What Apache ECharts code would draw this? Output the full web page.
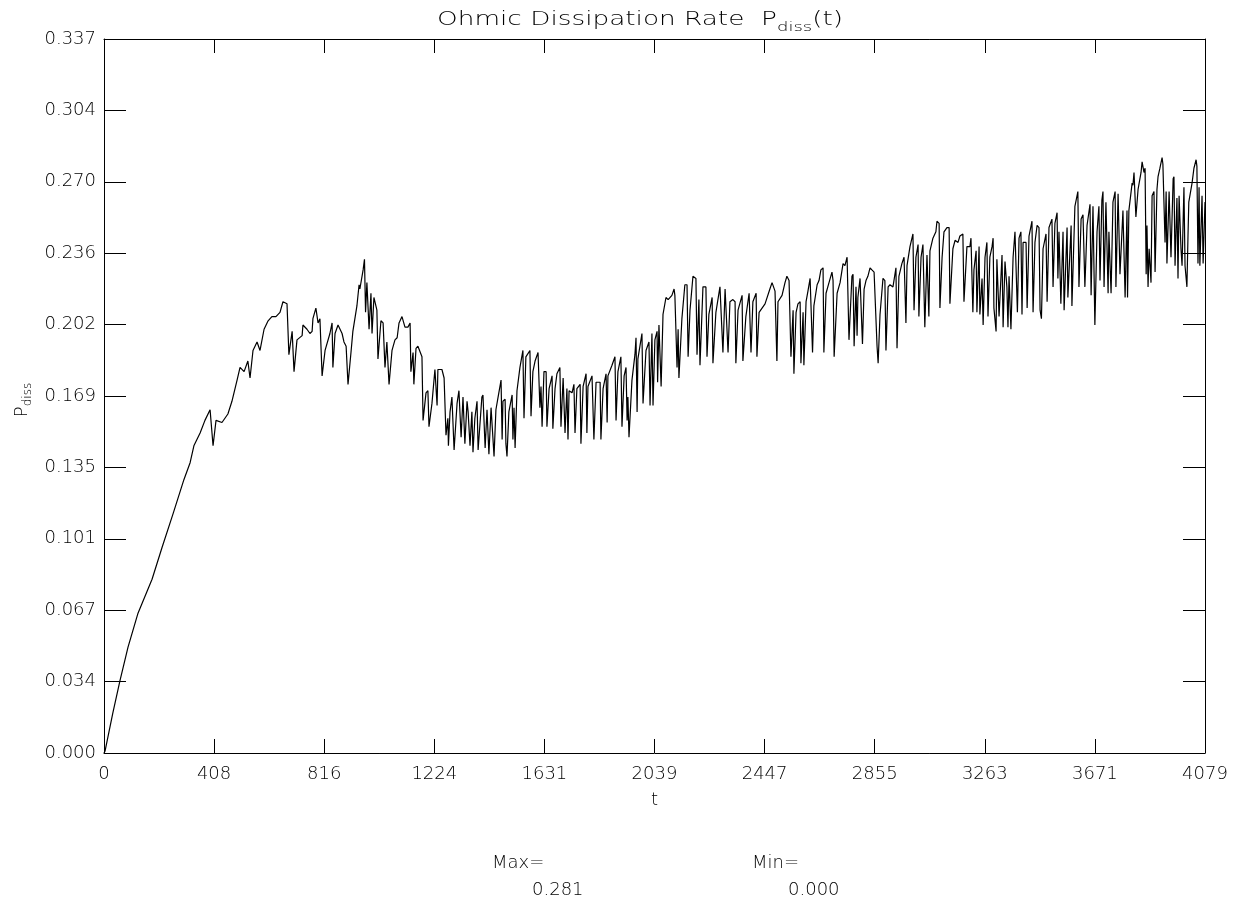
<!DOCTYPE html>
<html>
<head>
<meta charset="utf-8">
<title>Ohmic Dissipation Rate</title>
<script src="https://cdn.jsdelivr.net/npm/echarts@6/dist/echarts.min.js"></script>
<style>
  html, body { margin: 0; padding: 0; background: #fff; }
  #chart { width: 1236px; height: 907px; }
</style>
</head>
<body>
<div id="chart"></div>
<script>
// Ohmic dissipation rate samples: [t, P_diss]
const pdissSeries = [
  [0,0.000],[4,0.001],[33,0.019],[59,0.034],[89,0.050],[126,0.066],[178,0.082],[215,0.097],[256,0.113],[296,0.129],
  [319,0.137],[333,0.145],[356,0.151],[374,0.157],[393,0.162],[404,0.145],[415,0.157],[437,0.156],[459,0.160],[474,0.166],
  [493,0.176],[504,0.182],[519,0.180],[533,0.185],[541,0.177],[552,0.190],[567,0.194],[578,0.190],[593,0.200],[608,0.204],
  [622,0.206],[637,0.206],[652,0.208],[663,0.213],[678,0.212],[685,0.188],[697,0.199],[704,0.180],[715,0.195],[734,0.197],
  [737,0.202],[752,0.200],[763,0.198],[771,0.199],[774,0.205],[785,0.210],[793,0.203],[800,0.205],[808,0.178],[819,0.190],
  [826,0.190],[837,0.198],[845,0.203],[848,0.182],[856,0.198],[867,0.202],[882,0.198],[889,0.194],[897,0.192],[904,0.174],
  [915,0.189],[922,0.199],[937,0.211],[945,0.221],[948,0.219],[960,0.228],[965,0.233],[969,0.208],[974,0.222],[982,0.200],
  [989,0.217],[993,0.198],[1000,0.215],[1011,0.209],[1015,0.186],[1026,0.204],[1034,0.203],[1041,0.182],[1048,0.194],[1056,0.174],
  [1067,0.190],[1078,0.195],[1086,0.196],[1093,0.203],[1104,0.206],[1115,0.201],[1126,0.201],[1134,0.203],[1137,0.180],[1145,0.189],
  [1148,0.174],[1156,0.191],[1163,0.192],[1178,0.187],[1182,0.157],[1193,0.170],[1200,0.171],[1204,0.154],[1215,0.165],[1226,0.181],
  [1234,0.164],[1237,0.181],[1252,0.181],[1260,0.177],[1267,0.150],[1274,0.158],[1276,0.145],[1282,0.161],[1289,0.168],[1297,0.143],
  [1308,0.165],[1315,0.171],[1323,0.149],[1330,0.168],[1337,0.146],[1345,0.166],[1349,0.161],[1356,0.145],[1363,0.161],[1367,0.142],
  [1374,0.158],[1382,0.166],[1386,0.143],[1400,0.168],[1404,0.169],[1412,0.144],[1419,0.162],[1426,0.141],[1434,0.163],[1441,0.163],
  [1445,0.140],[1452,0.162],[1460,0.168],[1471,0.176],[1475,0.148],[1478,0.166],[1486,0.167],[1489,0.146],[1493,0.140],[1500,0.161],
  [1512,0.169],[1515,0.148],[1519,0.163],[1523,0.144],[1530,0.171],[1541,0.182],[1552,0.190],[1556,0.158],[1563,0.187],[1578,0.190],
  [1582,0.159],[1589,0.180],[1597,0.185],[1608,0.189],[1615,0.163],[1619,0.173],[1623,0.154],[1630,0.180],[1638,0.180],[1641,0.154],
  [1649,0.172],[1660,0.178],[1663,0.153],[1671,0.172],[1678,0.179],[1689,0.182],[1693,0.154],[1701,0.177],[1708,0.151],[1715,0.172],
  [1719,0.148],[1723,0.171],[1734,0.170],[1741,0.174],[1745,0.151],[1752,0.172],[1764,0.174],[1767,0.146],[1775,0.173],[1786,0.179],
  [1789,0.151],[1793,0.173],[1808,0.178],[1815,0.148],[1823,0.175],[1838,0.175],[1841,0.148],[1849,0.172],[1860,0.179],[1864,0.156],
  [1867,0.178],[1882,0.183],[1893,0.187],[1897,0.157],[1904,0.180],[1915,0.187],[1919,0.154],[1927,0.178],[1934,0.182],[1938,0.157],
  [1941,0.168],[1945,0.149],[1956,0.176],[1967,0.188],[1971,0.196],[1975,0.161],[1978,0.186],[1993,0.198],[1997,0.165],[2008,0.190],
  [2019,0.194],[2023,0.164],[2030,0.198],[2034,0.164],[2041,0.195],[2049,0.199],[2051,0.175],[2056,0.202],[2064,0.173],[2071,0.207],
  [2082,0.215],[2090,0.214],[2104,0.216],[2112,0.219],[2115,0.216],[2123,0.182],[2127,0.200],[2130,0.177],[2141,0.205],[2152,0.221],
  [2160,0.221],[2164,0.187],[2171,0.209],[2182,0.225],[2193,0.224],[2197,0.188],[2204,0.214],[2208,0.183],[2219,0.220],[2230,0.220],
  [2234,0.187],[2241,0.207],[2253,0.215],[2256,0.184],[2267,0.208],[2282,0.220],[2293,0.189],[2301,0.219],[2308,0.219],[2312,0.189],
  [2319,0.213],[2330,0.214],[2338,0.213],[2341,0.184],[2349,0.209],[2364,0.216],[2367,0.185],[2378,0.206],[2390,0.217],[2397,0.189],
  [2404,0.213],[2416,0.217],[2419,0.187],[2427,0.208],[2438,0.210],[2449,0.212],[2456,0.212],[2467,0.219],[2475,0.222],[2486,0.218],
  [2493,0.185],[2497,0.213],[2512,0.216],[2523,0.222],[2530,0.225],[2538,0.223],[2545,0.187],[2553,0.209],[2556,0.179],[2564,0.208],
  [2571,0.212],[2579,0.213],[2582,0.184],[2590,0.208],[2593,0.183],[2601,0.213],[2608,0.218],[2616,0.224],[2623,0.224],[2625,0.189],
  [2630,0.211],[2642,0.221],[2649,0.223],[2656,0.228],[2664,0.229],[2667,0.189],[2675,0.217],[2686,0.222],[2697,0.227],[2701,0.223],
  [2705,0.187],[2716,0.217],[2727,0.222],[2738,0.231],[2745,0.230],[2753,0.234],[2756,0.234],[2760,0.195],[2771,0.225],[2775,0.226],
  [2779,0.192],[2786,0.220],[2790,0.197],[2793,0.215],[2801,0.224],[2808,0.224],[2810,0.193],[2816,0.219],[2823,0.223],[2830,0.225],
  [2838,0.229],[2845,0.228],[2853,0.227],[2856,0.227],[2864,0.192],[2868,0.184],[2875,0.207],[2886,0.224],[2893,0.223],[2897,0.190],
  [2905,0.220],[2912,0.221],[2923,0.220],[2934,0.229],[2938,0.191],[2945,0.225],[2956,0.231],[2964,0.234],[2971,0.203],[2975,0.230],
  [2986,0.239],[2997,0.245],[3001,0.209],[3008,0.234],[3016,0.240],[3019,0.206],[3027,0.234],[3034,0.240],[3041,0.201],[3049,0.235],
  [3056,0.206],[3060,0.237],[3071,0.243],[3082,0.246],[3086,0.251],[3094,0.250],[3097,0.210],[3105,0.234],[3112,0.246],[3123,0.248],
  [3131,0.248],[3134,0.212],[3145,0.238],[3153,0.242],[3164,0.241],[3171,0.244],[3182,0.245],[3186,0.213],[3197,0.239],[3208,0.239],
  [3212,0.243],[3219,0.208],[3223,0.228],[3231,0.237],[3234,0.208],[3242,0.239],[3245,0.207],[3253,0.224],[3257,0.202],[3264,0.234],
  [3271,0.241],[3275,0.206],[3282,0.234],[3290,0.239],[3294,0.243],[3297,0.210],[3305,0.199],[3308,0.233],[3316,0.206],[3327,0.235],
  [3331,0.201],[3338,0.232],[3345,0.220],[3349,0.201],[3353,0.225],[3360,0.200],[3368,0.234],[3375,0.246],[3382,0.246],[3384,0.208],
  [3390,0.243],[3397,0.246],[3401,0.207],[3405,0.241],[3416,0.241],[3420,0.210],[3427,0.244],[3438,0.251],[3442,0.208],[3449,0.241],
  [3457,0.249],[3464,0.248],[3468,0.209],[3473,0.205],[3479,0.238],[3490,0.245],[3494,0.213],[3501,0.248],[3512,0.252],[3516,0.220],
  [3523,0.250],[3531,0.255],[3534,0.224],[3538,0.246],[3545,0.212],[3553,0.246],[3557,0.209],[3568,0.248],[3571,0.215],[3583,0.249],
  [3586,0.211],[3597,0.258],[3608,0.265],[3612,0.220],[3620,0.252],[3627,0.254],[3634,0.220],[3642,0.249],[3653,0.259],[3657,0.216],
  [3664,0.258],[3671,0.202],[3679,0.246],[3686,0.258],[3690,0.223],[3697,0.261],[3701,0.265],[3705,0.220],[3712,0.260],[3720,0.217],
  [3723,0.246],[3731,0.217],[3738,0.260],[3746,0.265],[3749,0.220],[3757,0.264],[3764,0.226],[3775,0.256],[3783,0.215],[3790,0.256],
  [3792,0.215],[3797,0.256],[3809,0.269],[3812,0.268],[3816,0.274],[3823,0.253],[3831,0.266],[3842,0.274],[3846,0.279],[3853,0.274],
  [3857,0.276],[3861,0.226],[3864,0.249],[3868,0.220],[3872,0.238],[3879,0.222],[3883,0.263],[3890,0.265],[3894,0.227],[3901,0.266],
  [3905,0.272],[3912,0.276],[3920,0.281],[3923,0.278],[3931,0.241],[3935,0.265],[3938,0.231],[3946,0.265],[3953,0.234],[3961,0.271],
  [3964,0.272],[3968,0.230],[3975,0.262],[3979,0.224],[3983,0.263],[3990,0.238],[3994,0.230],[4001,0.267],[4005,0.230],[4012,0.220],
  [4016,0.244],[4019,0.260],[4031,0.269],[4038,0.276],[4046,0.280],[4049,0.277],[4053,0.231],[4057,0.267],[4060,0.230],[4068,0.263],
  [4072,0.231],[4079,0.260]
];

// Axis ranges and tick labels
const tMax = 4079;
const pMax = 0.337;
const xTickLabels = ['0', '408', '816', '1224', '1631', '2039', '2447', '2855', '3263', '3671', '4079'];
const yTickLabels = ['0.000', '0.034', '0.067', '0.101', '0.135', '0.169', '0.202', '0.236', '0.270', '0.304', '0.337'];

const FONT = '"DejaVu Sans", "Liberation Sans", sans-serif';
const WEIGHT = 200;
const FS = 18;
const SUB = 12;
const TITLE_FS = 19;

const ctx2d = document.createElement('canvas').getContext('2d');
function textWidth(str, size) {
  ctx2d.font = WEIGHT + ' ' + size + 'px ' + FONT;
  return ctx2d.measureText(str).width;
}

const pValues = pdissSeries.map(d => d[1]);
const maxText = Math.max.apply(null, pValues).toFixed(3);
const minText = Math.min.apply(null, pValues).toFixed(3);

// Title pieces: main text, subscript, tail; the title is widened to span 437..843
const tMain = 'Ohmic Dissipation Rate  P', tSub = 'diss', tTail = '(t)';
const wMain = textWidth(tMain, TITLE_FS), wSub = textWidth(tSub, SUB + 1), wTail = textWidth(tTail, TITLE_FS);
const titleLeft = 437, titleWidth = 406;
const titleScale = titleWidth / (wMain + wSub + wTail);

const wP = textWidth('P', FS), wDiss = textWidth('diss', SUB);

const baseText = { fontFamily: FONT, fontWeight: WEIGHT, fontSize: FS, fill: '#000' };
const subText = { fontFamily: FONT, fontWeight: WEIGHT, fontSize: SUB, fill: '#000' };

const chart = echarts.init(document.getElementById('chart'), null, { renderer: 'canvas' });

const tickStyle = { color: '#000', width: 1 };
const labelStyle = { color: '#000', fontFamily: FONT, fontWeight: WEIGHT, fontSize: FS };

chart.setOption({
  animation: false,
  backgroundColor: '#fff',
  grid: { left: 104, top: 39, width: 1101, height: 714, containLabel: false },
  xAxis: [
    {
      type: 'value', position: 'bottom', min: 0, max: tMax, interval: tMax / 10,
      axisLine: { show: true, onZero: false, lineStyle: { color: '#000', width: 1 } },
      axisTick: { show: true, inside: true, length: 14, lineStyle: tickStyle },
      splitLine: { show: false },
      axisLabel: Object.assign({
        show: true, margin: 12, showMinLabel: true, showMaxLabel: true,
        formatter: v => xTickLabels[Math.round(v / tMax * 10)]
      }, labelStyle),
      name: 't', nameLocation: 'middle', nameGap: 38,
      nameTextStyle: labelStyle
    },
    {
      type: 'value', position: 'top', min: 0, max: tMax, interval: tMax / 10,
      axisLine: { show: true, onZero: false, lineStyle: { color: '#000', width: 1 } },
      axisTick: { show: true, inside: true, length: 14, lineStyle: tickStyle },
      splitLine: { show: false },
      axisLabel: { show: false }
    }
  ],
  yAxis: [
    {
      type: 'value', position: 'left', min: 0, max: pMax, interval: pMax / 10,
      axisLine: { show: true, onZero: false, lineStyle: { color: '#000', width: 1 } },
      axisTick: { show: true, inside: true, length: 22, lineStyle: tickStyle },
      splitLine: { show: false },
      axisLabel: Object.assign({
        show: true, margin: 8, showMinLabel: true, showMaxLabel: true,
        formatter: v => yTickLabels[Math.round(v / pMax * 10)]
      }, labelStyle)
    },
    {
      type: 'value', position: 'right', min: 0, max: pMax, interval: pMax / 10,
      axisLine: { show: true, onZero: false, lineStyle: { color: '#000', width: 1 } },
      axisTick: { show: true, inside: true, length: 22, lineStyle: tickStyle },
      splitLine: { show: false },
      axisLabel: { show: false }
    }
  ],
  series: [
    {
      type: 'line', xAxisIndex: 0, yAxisIndex: 0,
      data: pdissSeries,
      showSymbol: false, symbol: 'none', sampling: null,
      lineStyle: { color: '#000', width: 1.2 },
      silent: true
    }
  ],
  graphic: [
    // Title with subscript
    {
      type: 'group', x: titleLeft, y: 20, scaleX: titleScale,
      children: [
        { type: 'text', x: 0, y: 0, style: Object.assign({}, baseText, { text: tMain, fontSize: TITLE_FS, textAlign: 'left', textVerticalAlign: 'middle' }) },
        { type: 'text', x: wMain, y: 8, style: Object.assign({}, subText, { text: tSub, fontSize: SUB + 1, textAlign: 'left', textVerticalAlign: 'middle' }) },
        { type: 'text', x: wMain + wSub, y: 0, style: Object.assign({}, baseText, { text: tTail, fontSize: TITLE_FS, textAlign: 'left', textVerticalAlign: 'middle' }) }
      ]
    },
    // Rotated y-axis name P_diss
    {
      type: 'group', x: 22, y: 400, rotation: Math.PI / 2,
      children: [
        { type: 'text', x: -(wP + wDiss) / 2, y: 0, style: Object.assign({}, baseText, { text: 'P', textAlign: 'left', textVerticalAlign: 'middle' }) },
        { type: 'text', x: -(wP + wDiss) / 2 + wP, y: 6, style: Object.assign({}, subText, { text: 'diss', textAlign: 'left', textVerticalAlign: 'middle' }) }
      ]
    },
    // Extremes of the series
    { type: 'text', x: 492, y: 863, style: Object.assign({}, baseText, { text: 'Max=', textAlign: 'left', textVerticalAlign: 'middle' }) },
    { type: 'text', x: 532, y: 890, style: Object.assign({}, baseText, { text: maxText, textAlign: 'left', textVerticalAlign: 'middle' }) },
    { type: 'text', x: 752, y: 863, style: Object.assign({}, baseText, { text: 'Min=', textAlign: 'left', textVerticalAlign: 'middle' }) },
    { type: 'text', x: 788, y: 890, style: Object.assign({}, baseText, { text: minText, textAlign: 'left', textVerticalAlign: 'middle' }) }
  ]
});
</script>
</body>
</html>
